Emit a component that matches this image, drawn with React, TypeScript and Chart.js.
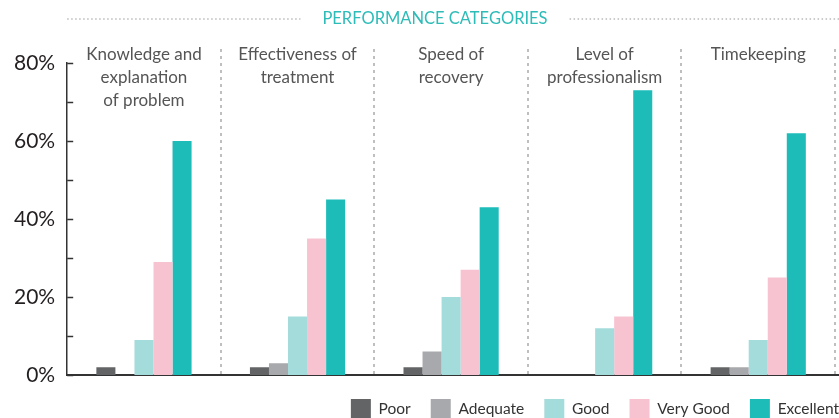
import React, { useEffect, useRef } from "react";
import { Chart, registerables } from "chart.js";

Chart.register(...registerables);

const categories: string[][] = [
  ["Knowledge and", "explanation", "of problem"],
  ["Effectiveness of", "treatment"],
  ["Speed of", "recovery"],
  ["Level of", "professionalism"],
  ["Timekeeping"],
];
const poor = [2, 2, 2, 0, 2];
const adequate = [0, 3, 6, 0, 2];
const good = [9, 15, 20, 12, 9];
const veryGood = [29, 35, 27, 15, 25];
const excellent = [60, 45, 43, 73, 62];
const yTicks = [0, 10, 20, 30, 40, 50, 60, 70, 80];
const title = "PERFORMANCE CATEGORIES";

const FONT = "Lato, 'Open Sans', sans-serif";

const decorPlugin = {
  id: "decor",
  afterLayout(chart: any) {
    const lg = chart.legend;
    if (lg) {
      const dx = 24;
      const dy = -4;
      lg.left += dx;
      lg.right += dx;
      lg.top += dy;
      lg.bottom = chart.height + 20;
    }
  },
  afterDraw(chart: any) {
    const { ctx, chartArea, scales } = chart;
    const x = scales.x;
    const y = scales.y;
    ctx.save();
    // title
    ctx.font = `16.5px ${FONT}`;
    ctx.fillStyle = "#2dbcb8";
    ctx.textAlign = "center";
    ctx.textBaseline = "middle";
    const cx = 435;
    const ty = 19;
    ctx.fillText(title, cx, ty);
    const tw = ctx.measureText(title).width;
    ctx.strokeStyle = "#999";
    ctx.lineWidth = 1.2;
    ctx.setLineDash([1.5, 2.5]);
    ctx.beginPath();
    ctx.moveTo(chartArea.left, ty);
    ctx.lineTo(cx - tw / 2 - 22, ty);
    ctx.moveTo(cx + tw / 2 + 22, ty);
    ctx.lineTo(chart.width, ty);
    ctx.stroke();
    // dividers
    ctx.setLineDash([3, 4]);
    ctx.strokeStyle = "#aaa";
    ctx.lineWidth = 1.5;
    const n = categories.length;
    for (let i = 0; i < n; i++) {
      const c = x.getPixelForValue(i);
      const nxt = i < n - 1 ? x.getPixelForValue(i + 1) : c + (c - x.getPixelForValue(i - 1));
      const bx = Math.round((c + nxt) / 2);
      ctx.beginPath();
      ctx.moveTo(bx, chartArea.top - 14);
      ctx.lineTo(bx, chartArea.bottom);
      ctx.stroke();
    }
    ctx.setLineDash([]);
    // extend baseline to the right edge
    ctx.strokeStyle = "#333";
    ctx.lineWidth = 2;
    ctx.beginPath();
    ctx.moveTo(chartArea.right - 1, chartArea.bottom);
    ctx.lineTo(chart.width, chartArea.bottom);
    ctx.stroke();
    // category labels
    ctx.font = `17px ${FONT}`;
    ctx.fillStyle = "#555";
    ctx.textAlign = "center";
    categories.forEach((lines, i) => {
      const c = x.getPixelForValue(i);
      lines.forEach((ln, j) => {
        ctx.fillText(ln, c, chartArea.top - 8 + j * 23);
      });
    });
    // inner tick marks
    ctx.strokeStyle = "#333";
    ctx.lineWidth = 1.5;
    yTicks.forEach((v) => {
      const py = Math.round(y.getPixelForValue(v)) + 0.5;
      ctx.beginPath();
      ctx.moveTo(chartArea.left, py);
      ctx.lineTo(chartArea.left + 6, py);
      ctx.stroke();
    });
    ctx.restore();
  },
};

export default function App() {
  const ref = useRef<HTMLCanvasElement>(null);
  useEffect(() => {
    document.body.style.margin = "0";
    const chart = new Chart(ref.current!, {
      type: "bar",
      data: {
        labels: categories.map((c) => c.join(" ")),
        datasets: [
          { label: "Poor", data: poor, backgroundColor: "#636466" },
          { label: "Adequate", data: adequate, backgroundColor: "#a8a9ad" },
          { label: "Good", data: good, backgroundColor: "#a4dcdb" },
          { label: "Very Good", data: veryGood, backgroundColor: "#f7c3d1" },
          { label: "Excellent", data: excellent, backgroundColor: "#1dbcb9" },
        ],
      },
      options: {
        responsive: false,
        animation: false,
        layout: { padding: { left: 2, right: 4, top: 63, bottom: 0 } },
        datasets: { bar: { categoryPercentage: 0.62, barPercentage: 1 } },
        scales: {
          x: {
            grid: { display: false },
            ticks: { display: false },
            border: { display: true, color: "#333", width: 2 },
          },
          y: {
            min: 0,
            max: 80,
            afterBuildTicks: (s: any) => {
              s.ticks = yTicks.map((v) => ({ value: v }));
            },
            grid: { display: false, drawTicks: false },
            border: { display: true, color: "#333", width: 1.5 },
            ticks: {
              padding: 12,
              color: "#231f20",
              font: { family: FONT, size: 21 },
              callback: (v: any) => (Number(v) % 20 === 0 ? v + "%" : ""),
            },
          },
        },
        plugins: {
          tooltip: { enabled: false },
          legend: {
            position: "bottom",
            align: "end",
            maxHeight: 35,
            labels: {
              boxWidth: 20,
              boxHeight: 20,
              padding: 20,
              color: "#333",
              font: { family: FONT, size: 15.5 },
            },
          },
        },
      },
      plugins: [decorPlugin],
    });
    return () => chart.destroy();
  }, []);
  return <canvas ref={ref} width={839} height={418} />;
}
